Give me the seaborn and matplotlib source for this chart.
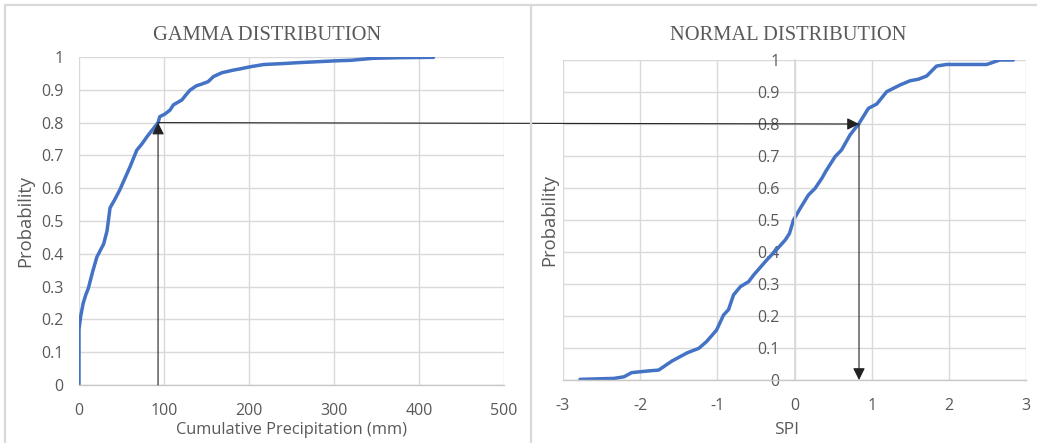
import numpy as np
import pandas as pd
import matplotlib
matplotlib.use("Agg")
import matplotlib.pyplot as plt
import seaborn as sns
from matplotlib.patches import ConnectionPatch
from matplotlib.lines import Line2D

# ---------------- data ----------------
gamma_precip = [0, 0, 2, 5, 8, 11, 16, 21, 29, 33, 36.5, 42, 48, 54, 60, 68, 74, 80, 87, 93,
                95, 101, 107, 111, 121, 126, 130.6, 138, 145, 152, 158, 168, 181.6, 190,
                201, 217, 240, 260, 299, 320, 346, 380, 417]
gamma_prob = [0, 0.17, 0.21, 0.25, 0.275, 0.295, 0.345, 0.39, 0.43, 0.47, 0.54, 0.565,
              0.595, 0.63, 0.665, 0.716, 0.735, 0.757, 0.78, 0.80, 0.818, 0.826, 0.838,
              0.854, 0.869, 0.885, 0.899, 0.912, 0.918, 0.925, 0.94, 0.952, 0.96, 0.964,
              0.970, 0.977, 0.980, 0.983, 0.988, 0.99, 0.996, 0.998, 0.999]

spi_values = [-2.78, -2.34, -2.21, -2.11, -1.91, -1.76, -1.59, -1.39, -1.24, -1.14, -1.01,
              -0.92, -0.855, -0.79, -0.70, -0.596, -0.53, -0.36, -0.23, -0.12, -0.065,
              -0.013, 0.073, 0.18, 0.267, 0.354, 0.41, 0.526, 0.61, 0.72, 0.837, 0.958,
              1.066, 1.195, 1.368, 1.497, 1.605, 1.713, 1.84, 1.97, 2.49, 2.66, 2.835]
spi_prob = [0.002, 0.005, 0.01, 0.023, 0.028, 0.031, 0.059, 0.085, 0.099, 0.12, 0.156,
            0.203, 0.22, 0.266, 0.292, 0.307, 0.328, 0.375, 0.408, 0.4375, 0.458, 0.50,
            0.536, 0.578, 0.599, 0.63, 0.654, 0.698, 0.719, 0.766, 0.802, 0.849, 0.8625,
            0.901, 0.922, 0.935, 0.94, 0.95, 0.981, 0.986, 0.986, 1.0, 1.0]

gamma_xticks = [0, 100, 200, 300, 400, 500]
spi_xticks = [-3, -2, -1, 0, 1, 2, 3]
prob_ticks = [0, 0.1, 0.2, 0.3, 0.4, 0.5, 0.6, 0.7, 0.8, 0.9, 1]
prob_ticklabels = ["0", "0.1", "0.2", "0.3", "0.4", "0.5", "0.6", "0.7", "0.8", "0.9", "1"]

p_level = 0.8          # probability used for the transformation
precip_at_p = 93       # gamma value at p_level
spi_at_p = 0.836       # SPI value at p_level

titles = ["GAMMA DISTRIBUTION", "NORMAL DISTRIBUTION"]
xlabels = ["Cumulative Precipitation (mm)", "SPI"]
ylabel = "Probability"

# ---------------- style ----------------
sns.set_theme(style="white")
plt.rcParams["font.family"] = ["Open Sans", "DejaVu Sans"]
TXT = "#595959"
GRID = "#d9d9d9"
BLUE = "#4472C4"

W, H = 1037, 443
fig = plt.figure(figsize=(W / 100, H / 100), dpi=100)
fig.patch.set_facecolor("white")


def px(x0, y0, x1, y1):
    return [x0 / W, 1 - y1 / H, (x1 - x0) / W, (y1 - y0) / H]


ax1 = fig.add_axes(px(79, 57, 504, 385))
ax2 = fig.add_axes(px(563, 60, 1026, 380))

df_g = pd.DataFrame({"x": gamma_precip, "p": gamma_prob})
df_n = pd.DataFrame({"x": spi_values, "p": spi_prob})
sns.lineplot(data=df_g, x="x", y="p", ax=ax1, color=BLUE, lw=2.5, estimator=None, sort=False)
sns.lineplot(data=df_n, x="x", y="p", ax=ax2, color=BLUE, lw=2.5, estimator=None, sort=False)

for ax, xt, xlim in [(ax1, gamma_xticks, (0, 500)), (ax2, spi_xticks, (-3, 3))]:
    ax.set_xlim(*xlim)
    ax.set_ylim(0, 1)
    ax.set_xticks(xt)
    ax.set_xticklabels([str(v) for v in xt])
    ax.set_yticks(prob_ticks)
    ax.set_yticklabels(prob_ticklabels)
    ax.grid(True, color=GRID, lw=1.0)
    ax.set_axisbelow(True)
    for s in ["top", "right", "left"]:
        ax.spines[s].set_visible(False)
    ax.spines["bottom"].set_color("#c8c8c8")
    ax.spines["bottom"].set_linewidth(1.0)
    ax.tick_params(axis="both", length=0, labelsize=11.5, labelcolor=TXT)
    ax.tick_params(axis="x", pad=13)
    ax.set_xlabel("")
    ax.set_ylabel("")

ax1.tick_params(axis="y", pad=11)
# right chart: vertical axis crosses at SPI = 0
ax2.spines["left"].set_visible(True)
ax2.spines["left"].set_position(("data", 0))
ax2.spines["left"].set_color(GRID)
ax2.tick_params(axis="y", pad=11)

# titles and axis labels
fig.text(267 / W, 1 - 36 / H, titles[0], ha="center", va="center",
         family="Liberation Serif", fontsize=14.8, color=TXT)
fig.text(788 / W, 1 - 36 / H, titles[1], ha="center", va="center",
         family="Liberation Serif", fontsize=14.8, color=TXT)
fig.text(291 / W, 1 - 430 / H, xlabels[0], ha="center", va="center", fontsize=11.8, color=TXT)
fig.text(787 / W, 1 - 430 / H, xlabels[1], ha="center", va="center", fontsize=12.5, color=TXT)
fig.text(25 / W, 1 - 221 / H, ylabel, ha="center", va="center", rotation=90, fontsize=13.2, color=TXT)
fig.text(549 / W, 1 - 220 / H, ylabel, ha="center", va="center", rotation=90, fontsize=13.2, color=TXT)

# chart-area borders
for seg in [((5, 5), (1037, 5)), ((5, 5), (5, 443)), ((531, 5), (531, 443))]:
    (xa, ya), (xb, yb) = seg
    fig.add_artist(Line2D([xa / W, xb / W], [1 - ya / H, 1 - yb / H], color="#d9d9d9",
                          lw=1.6, transform=fig.transFigure))

# transformation arrows
arrow_kw = dict(arrowstyle="-|>", color="#222222", lw=0.8, mutation_scale=18)
ax1.annotate("", xy=(precip_at_p, p_level), xytext=(precip_at_p, 0),
             arrowprops=dict(shrinkA=0, shrinkB=0, **arrow_kw), annotation_clip=False)
con = ConnectionPatch(xyA=(precip_at_p, p_level), coordsA=ax1.transData,
                      xyB=(spi_at_p, p_level), coordsB=ax2.transData,
                      shrinkA=0, shrinkB=0, **arrow_kw)
fig.add_artist(con)
ax2.annotate("", xy=(spi_at_p, 0), xytext=(spi_at_p, p_level),
             arrowprops=dict(shrinkA=0, shrinkB=0, **arrow_kw), annotation_clip=False)

fig.savefig("out.png", dpi=100, facecolor="white")
